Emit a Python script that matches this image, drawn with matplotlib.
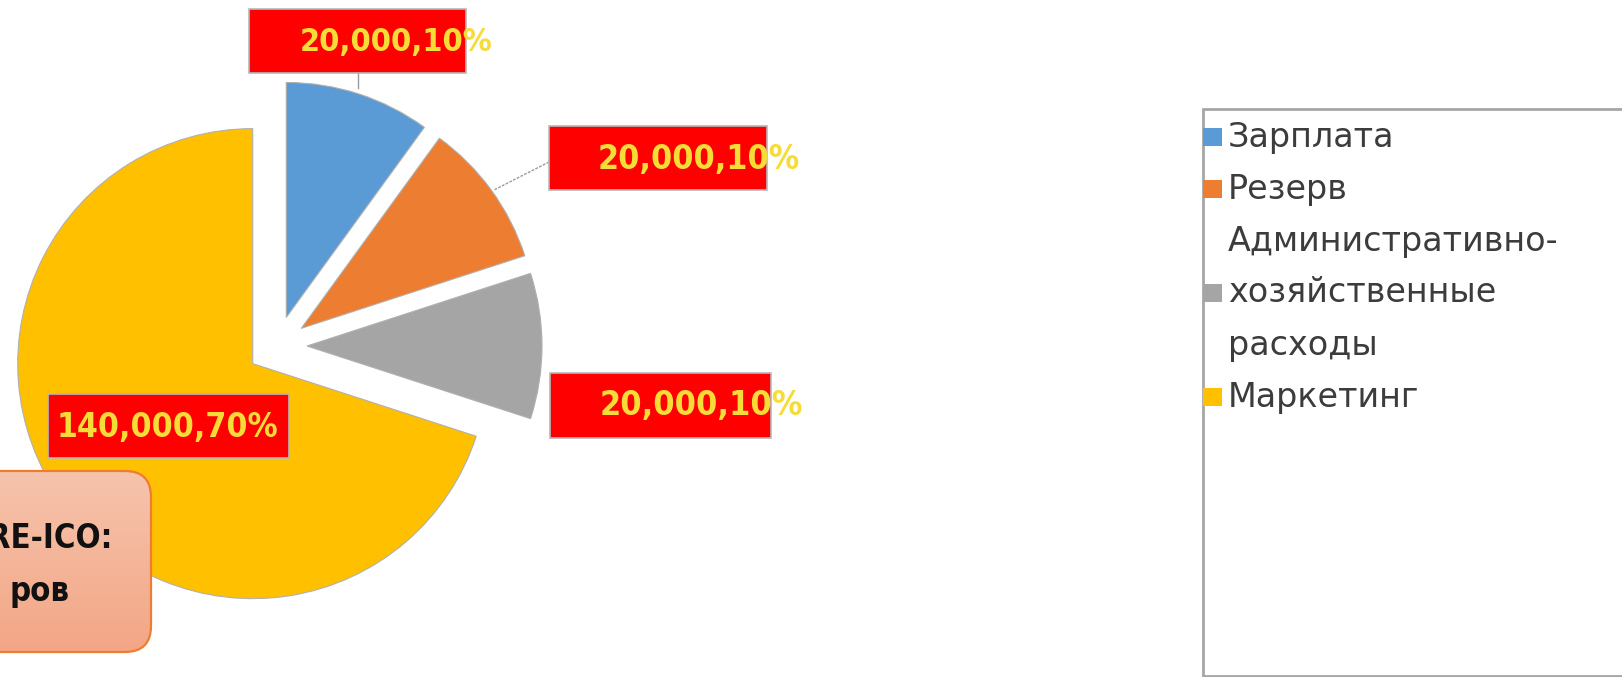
import os
import matplotlib
matplotlib.use('Agg')
import matplotlib.pyplot as plt
from matplotlib.patches import Rectangle, FancyBboxPatch
from matplotlib import font_manager as fm
from matplotlib.font_manager import FontProperties
import numpy as np

# ---- data ----
categories = ['Зарплата', 'Резерв', 'Административно-хозяйственные расходы', 'Маркетинг']
legend_lines = [['Зарплата'], ['Резерв'], ['Административно-', 'хозяйственные', 'расходы'], ['Маркетинг']]
values = [20000, 20000, 20000, 140000]
percents = [10, 10, 10, 70]
colors = ['#5B9BD5', '#ED7D31', '#A5A5A5', '#FFC000']
note_lines = ['PRE-ICO:', 'ров']


def narrow_bold():
    order = ['liberation', 'dejavu', 'roboto', 'noto', 'open', 'lato', 'inter']
    found = []
    for f in fm.fontManager.ttflist:
        fn = os.path.basename(f.fname).lower()
        if ('condensed' in fn or 'narrow' in fn) and 'bold' in fn \
                and 'italic' not in fn and 'oblique' not in fn \
                and 'extrabold' not in fn and 'black' not in fn:
            rank = next((i for i, k in enumerate(order) if k in fn), 99)
            semi = 1 if 'semibold' in fn else 0
            found.append((rank, semi, f.fname))
    if found:
        found.sort()
        return FontProperties(fname=found[0][2])
    return FontProperties(family='DejaVu Sans', weight='bold')


NB = narrow_bold()

W, H = 1622, 677
fig = plt.figure(figsize=(W / 100, H / 100), dpi=100)
ax = fig.add_axes([0, 0, 1, 1])
renderer = fig.canvas.get_renderer()


def Y(y):
    return H - y


def fit(t, target):
    w = t.get_window_extent(renderer).width
    t.set_fontsize(t.get_fontsize() * target / w)


# ---- pie ----
cx, cy, R = 277, 346, 235
wedges, _ = ax.pie(values, colors=colors, startangle=90, counterclock=False,
                   explode=[30] * len(values), center=(cx, Y(cy)), radius=R,
                   wedgeprops=dict(edgecolor='#b0b0b0', linewidth=0.8))
ax.set_xlim(0, W)
ax.set_ylim(0, H)
ax.set_aspect('equal')
ax.axis('off')

# ---- data labels ----
box_pos = [(249, 9, 217, 64), (549, 126, 218, 64), (550, 373, 221, 65), (48, 394, 241, 64)]
text_pos = [(300, 42), (598, 160), (600, 406), (57, 427)]
text_w = [192, 201, 203, 221]
for v, p, (bx, by, bw, bh), (tx, ty), tw in zip(values, percents, box_pos, text_pos, text_w):
    ax.add_patch(Rectangle((bx, Y(by + bh)), bw, bh, facecolor='#FF0000',
                           edgecolor='#b8b8b8', linewidth=1.2, zorder=5))
    t = ax.text(tx, Y(ty), f'{v:,},{p}%', fontproperties=NB, fontsize=30,
                color='#F6DC36', ha='left', va='center', zorder=6)
    fit(t, tw)

# leader lines
ax.plot([358, 358], [Y(73), Y(88)], color='#9a9a9a', lw=1, zorder=4)
ax.plot([549, 494], [Y(162), Y(190)], color='#9a9a9a', lw=1, ls=(0, (2, 1)), zorder=4)

# ---- note box ----
nx0, nx1, ny0, ny1 = -40, 151, 471, 652
note = FancyBboxPatch((nx0, Y(ny1)), nx1 - nx0, ny1 - ny0,
                      boxstyle='round,pad=0,rounding_size=26',
                      facecolor='none', edgecolor='#ED7D31', linewidth=1.6, zorder=8)
ax.add_patch(note)
grad = np.linspace(0, 1, 100).reshape(-1, 1)
top = np.array([0xF6, 0xC4, 0xAC]) / 255
bot = np.array([0xF3, 0xA6, 0x86]) / 255
img = top + (bot - top) * grad[:, :, None]
im = ax.imshow(img, extent=(nx0, nx1, Y(ny1), Y(ny0)), origin='upper',
               aspect='auto', zorder=7)
im.set_clip_path(note)
ax.set_xlim(0, W)
ax.set_ylim(0, H)

probe = ax.text(0, 0, note_lines[0][1:], fontproperties=NB, fontsize=30)
fit(probe, 124)
note_fs = probe.get_fontsize()
probe.remove()
ax.text(113, Y(539), note_lines[0], fontproperties=NB, fontsize=note_fs,
        color='#111111', ha='right', va='center', zorder=9)
ax.text(69, Y(591), note_lines[1], fontproperties=NB, fontsize=note_fs,
        color='#111111', ha='right', va='center', zorder=9)

# ---- legend ----
ax.add_patch(Rectangle((1203, Y(676)), 500, 676 - 109, facecolor='white',
                       edgecolor='#a6a6a6', linewidth=2, zorder=2))
y0, dy = 137, 52
line_idx = 0
for lines, col in zip(legend_lines, colors):
    n = len(lines)
    mid = line_idx + (n - 1) / 2
    my = y0 + mid * dy
    ax.add_patch(Rectangle((1203, Y(my + 9)), 19, 18, facecolor=col,
                           edgecolor='none', zorder=3))
    for k, t in enumerate(lines):
        ax.text(1228, Y(y0 + (line_idx + k) * dy), t, fontsize=24, color='#3c3c3c',
                family='DejaVu Sans', ha='left', va='center', zorder=3)
    line_idx += n

fig.savefig('out.png', dpi=100)
